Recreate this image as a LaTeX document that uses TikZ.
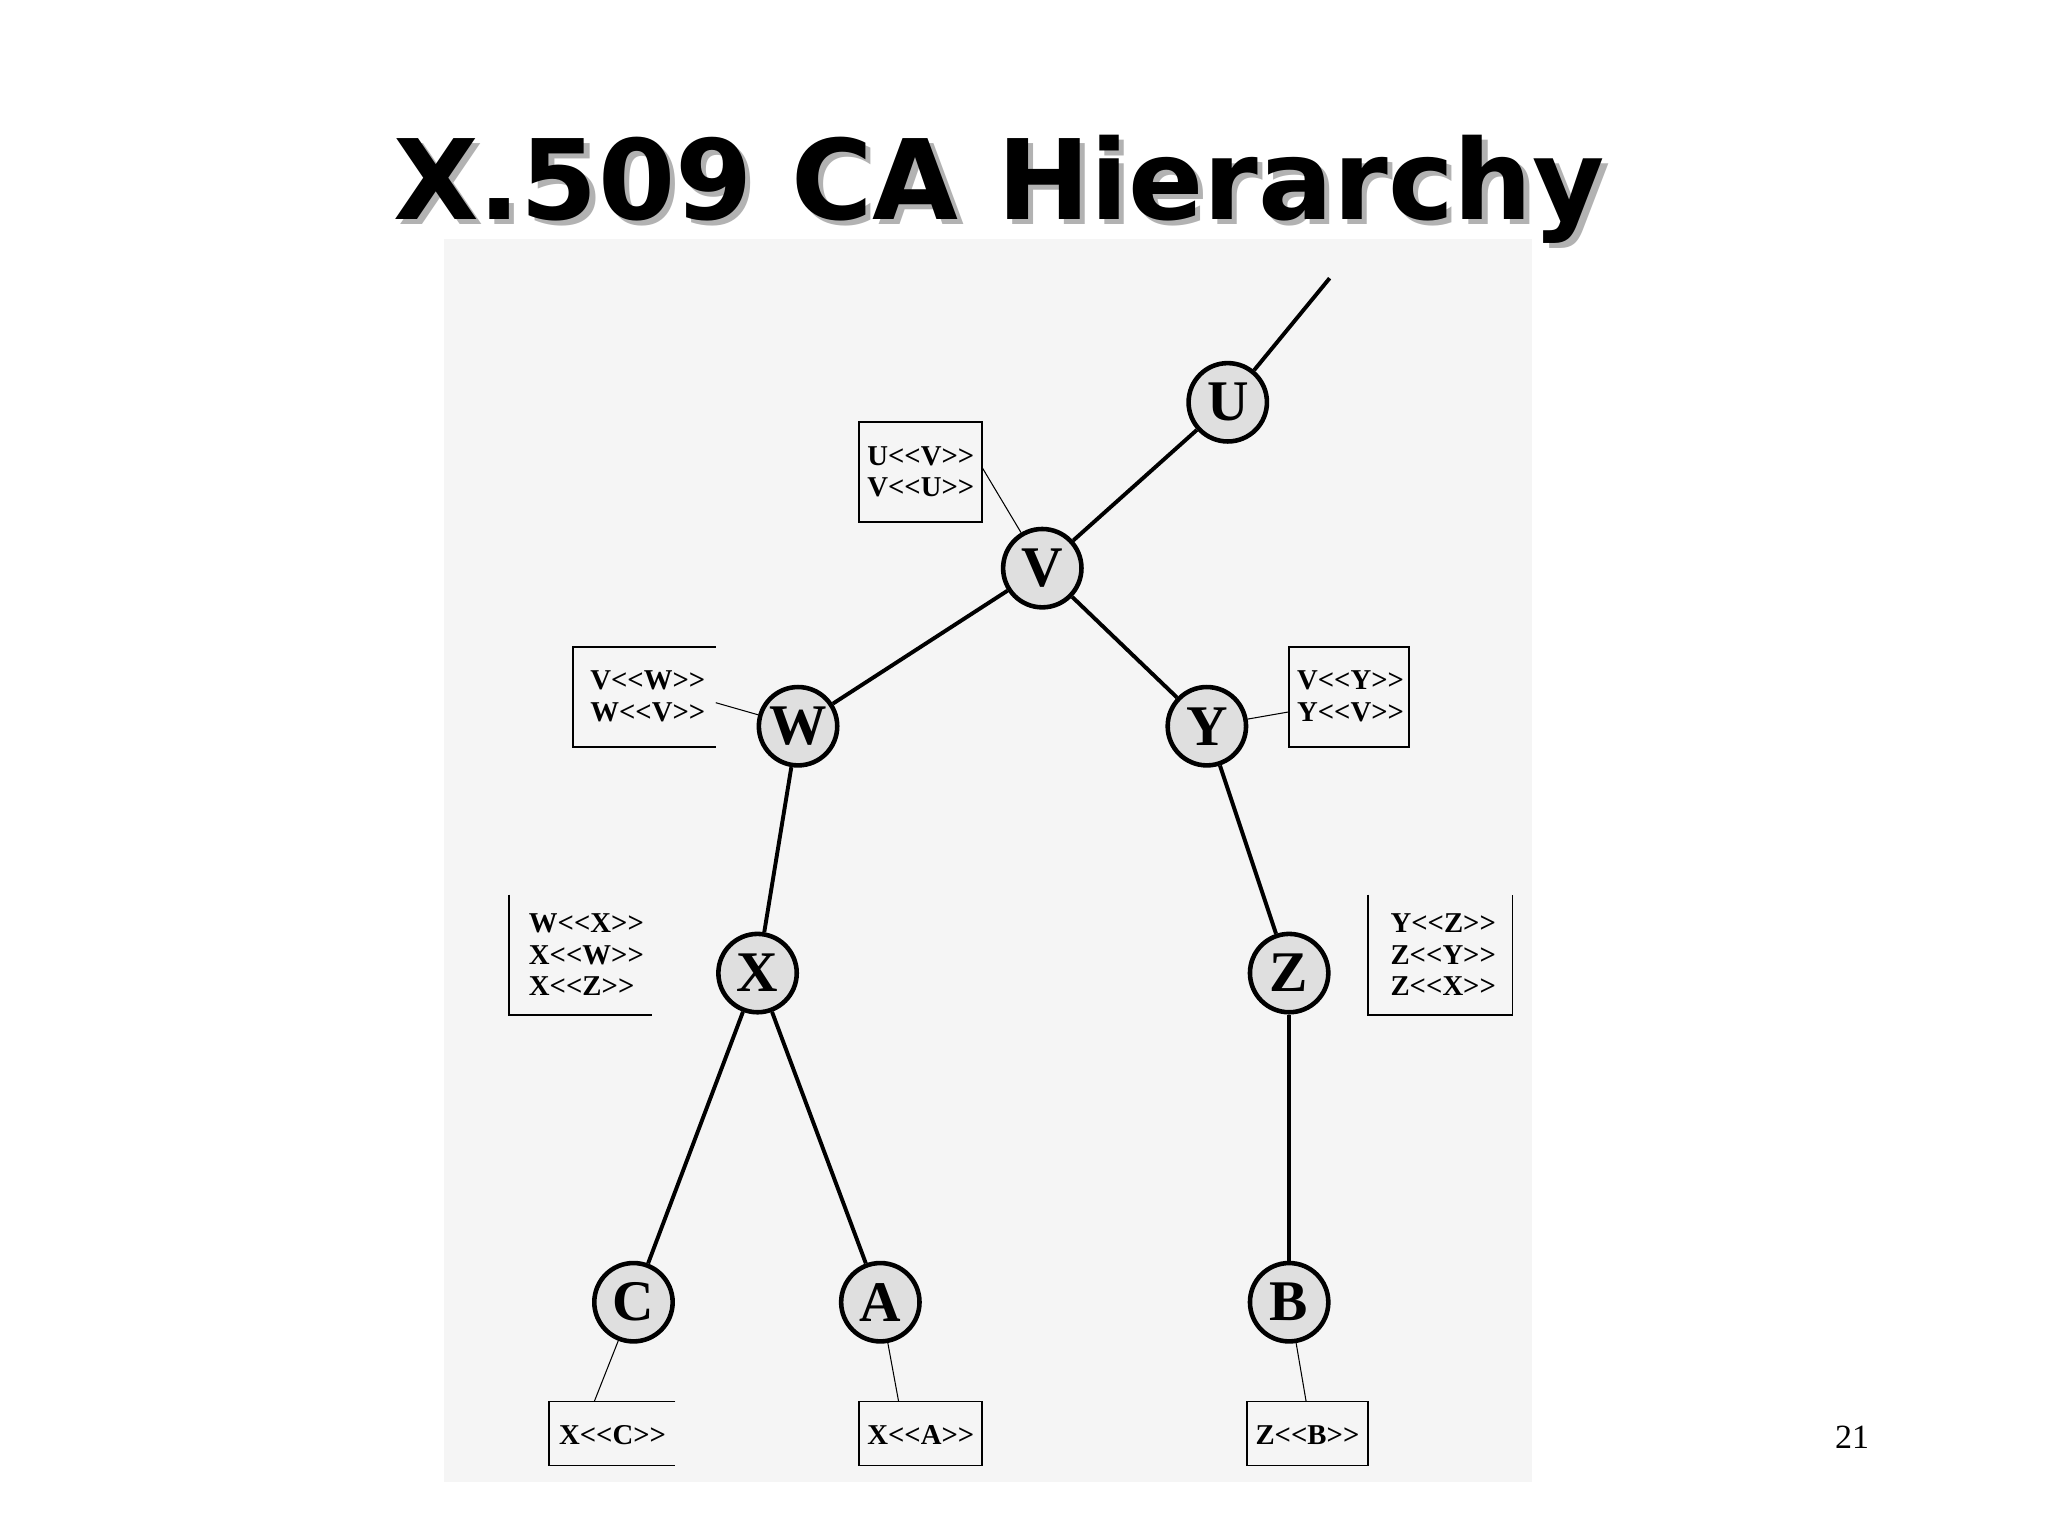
\documentclass[tikz,border=0pt]{standalone}
\usepackage{fontspec}
\setmainfont{Liberation Serif}
\newfontfamily\titlefont{DejaVu Sans}
\newcommand{\LL}{<{}<}
\newcommand{\GG}{>{}>}
\begin{document}
\begin{tikzpicture}[x=1pt,y=-1pt,
  ca/.style={circle,draw,line width=3.5pt,fill=gray!25,minimum size=60pt,inner sep=0pt,font=\fontsize{44}{44}\selectfont\bfseries},
  edge/.style={line width=3pt},
  thin/.style={line width=0.8pt},
  lbl/.style={font=\fontsize{22}{24}\selectfont\bfseries,align=left},
  frame/.style={line width=1.5pt}]
\useasboundingbox (0,0) rectangle (1568,1176);
\fill[white] (0,0) rectangle (1568,1176);
\fill[gray!8] (340,183) rectangle (1173,1135);
\node[font=\titlefont\fontsize{85}{85}\selectfont\bfseries,text=gray!60] (shadow) at (769,149) {X.509 CA Hierarchy};
\node[font=\titlefont\fontsize{85}{85}\selectfont\bfseries] (title) at (765,145) {X.509 CA Hierarchy};
\node[font=\fontsize{26}{26}\selectfont] (pg) at (1418,1100) {21};
\node[ca] (U) at (940,308) {U};
\node[ca] (V) at (798,435) {V};
\node[ca] (W) at (611,556) {W};
\node[ca] (Y) at (924,556) {Y};
\node[ca] (X) at (580,745) {X};
\node[ca] (Z) at (987,745) {Z};
\node[ca] (C) at (485,997) {C};
\node[ca] (A) at (674,997) {A};
\node[ca] (B) at (987,997) {B};
\coordinate (top) at (1018,213);
\draw[edge] (U) -- (top);
\draw[edge] (U) -- (V);
\draw[edge] (V) -- (W);
\draw[edge] (V) -- (Y);
\draw[edge] (W) -- (X);
\draw[edge] (Y) -- (Z);
\draw[edge] (X) -- (C);
\draw[edge] (X) -- (A);
\draw[edge] (Z) -- (B);
\draw[frame] (658,323) rectangle (752,400);
\node[lbl] (bUV) at (705,361) {U\LL V\GG\\V\LL U\GG};
\draw[thin] (752,358) -- (V);
\draw[frame] (548,495) -- (439,495) -- (439,572) -- (548,572);
\node[lbl] (bW) at (496,533) {V\LL W\GG\\W\LL V\GG};
\draw[thin] (548,538) -- (W);
\draw[frame] (987,495) rectangle (1079,572);
\node[lbl] (bY) at (1034,533) {V\LL Y\GG\\Y\LL V\GG};
\draw[thin] (987,545) -- (Y);
\draw[frame] (390,685) -- (390,777) -- (499,777);
\node[lbl] (bX) at (449,731) {W\LL X\GG\\X\LL W\GG\\X\LL Z\GG};
\draw[frame] (1047,685) -- (1047,777) -- (1158,777) -- (1158,685);
\node[lbl] (bZ) at (1105,731) {Y\LL Z\GG\\Z\LL Y\GG\\Z\LL X\GG};
\draw[frame] (517,1073) -- (420,1073) -- (420,1122) -- (517,1122);
\node[lbl] (bC) at (469,1099) {X\LL C\GG};
\draw[thin] (455,1073) -- (C);
\draw[frame] (658,1073) rectangle (752,1122);
\node[lbl] (bA) at (705,1099) {X\LL A\GG};
\draw[thin] (688,1073) -- (A);
\draw[frame] (955,1073) rectangle (1047,1122);
\node[lbl] (bB) at (1001,1099) {Z\LL B\GG};
\draw[thin] (1000,1073) -- (B);
\end{tikzpicture}
\end{document}
